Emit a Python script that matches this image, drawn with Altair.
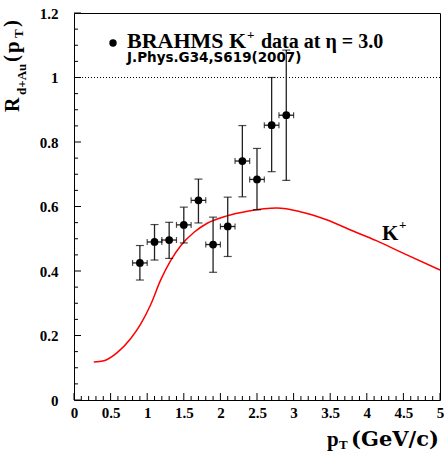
import altair as alt
import pandas as pd

# data points (BRAHMS K+ at eta=3.0)
pt_x = [0.9, 1.1, 1.3, 1.5, 1.7, 1.9, 2.1, 2.3, 2.5, 2.7, 2.9]
pt_y = [0.425, 0.490, 0.496, 0.543, 0.619, 0.482, 0.538, 0.741, 0.684, 0.852, 0.883]
pt_ylo = [0.372, 0.434, 0.439, 0.487, 0.549, 0.396, 0.445, 0.630, 0.590, 0.708, 0.681]
pt_yhi = [0.479, 0.544, 0.551, 0.598, 0.685, 0.567, 0.629, 0.851, 0.780, 1.000, 1.085]
pt_xerr = [0.1] * 11

# model curve
curve_x = [0.27, 0.41, 0.59, 0.77, 0.91, 1.05, 1.18, 1.32, 1.46, 1.64, 1.82, 2.09,
           2.37, 2.77, 3.09, 3.45, 3.77, 4.13, 4.45, 5.0]
curve_y = [0.118, 0.122, 0.147, 0.189, 0.235, 0.297, 0.370, 0.432, 0.479, 0.520,
           0.548, 0.571, 0.585, 0.595, 0.584, 0.559, 0.528, 0.494, 0.460, 0.403]

# axis ticks
x_major = [0, 0.5, 1, 1.5, 2, 2.5, 3, 3.5, 4, 4.5, 5]
x_minor = [round(i * 0.1, 2) for i in range(51) if i % 5 != 0]
y_major = [0, 0.2, 0.4, 0.6, 0.8, 1.0, 1.2]
y_minor = [round(i * 0.05, 3) for i in range(25) if i % 4 != 0]
ref_line = [1.0]

W, H = 366, 387
XS = alt.Scale(domain=[0, 5], nice=False, zero=False)
YS = alt.Scale(domain=[0, 1.2], nice=False, zero=False)

pts = pd.DataFrame({"x": pt_x, "y": pt_y, "ylo": pt_ylo, "yhi": pt_yhi,
                    "xlo": [a - b for a, b in zip(pt_x, pt_xerr)],
                    "xhi": [a + b for a, b in zip(pt_x, pt_xerr)]})
curve = pd.DataFrame({"x": curve_x, "y": curve_y})

DJ = "DejaVu Serif"
LS = "Liberation Serif"

base = alt.Chart(pts)

axis_x = alt.Axis(values=x_major, labelFont=LS, labelFontWeight="bold", labelFontSize=15,
                  labelColor="black", ticks=False, domain=False, grid=False, labelPadding=5,
                  labelFlush=False, labelOverlap=False, format="~g", title=None)
axis_y = alt.Axis(values=y_major, labelFont=LS, labelFontWeight="bold", labelFontSize=15,
                  labelColor="black", ticks=False, domain=False, grid=False, labelPadding=16,
                  labelFlush=False, labelOverlap=False, format="~g", title=None)


def X(f):
    return alt.X(f, type="quantitative", scale=XS, axis=axis_x)


def Y(f):
    return alt.Y(f, type="quantitative", scale=YS, axis=axis_y)


curve_layer = alt.Chart(curve).mark_line(color="#ff0000", strokeWidth=1.5, interpolate="monotone").encode(
    x=X("x"), y=Y("y"))

dotted = alt.Chart(pd.DataFrame({"y": ref_line})).mark_rule(color="black", strokeDash=[1, 2], strokeWidth=1).encode(
    y=Y("y"))

vbar = base.mark_rule(color="#222222", strokeWidth=1.3).encode(x=X("x"), y=Y("ylo"), y2="yhi:Q")
hbar = base.mark_rule(color="#222222", strokeWidth=1.3).encode(x=X("xlo"), x2="xhi:Q", y=Y("y"))
cap_lo = base.mark_tick(color="black", orient="horizontal", size=8, thickness=1.2).encode(x=X("x"), y=Y("ylo"))
cap_hi = base.mark_tick(color="black", orient="horizontal", size=8, thickness=1.2).encode(x=X("x"), y=Y("yhi"))
cap_l = base.mark_tick(color="black", orient="vertical", size=6, thickness=1.2).encode(x=X("xlo"), y=Y("y"))
cap_r = base.mark_tick(color="black", orient="vertical", size=6, thickness=1.2).encode(x=X("xhi"), y=Y("y"))
dots = base.mark_circle(color="black", size=60, opacity=1).encode(x=X("x"), y=Y("y"))

# inside ticks
xmaj = alt.Chart(pd.DataFrame({"v": x_major})).mark_rule(color="black", strokeWidth=1).encode(
    x=X("v"), y=alt.value(H), y2=alt.value(H - 7))
xmin = alt.Chart(pd.DataFrame({"v": x_minor})).mark_rule(color="black", strokeWidth=1).encode(
    x=X("v"), y=alt.value(H), y2=alt.value(H - 4))
ymaj = alt.Chart(pd.DataFrame({"v": y_major})).mark_rule(color="black", strokeWidth=1).encode(
    y=Y("v"), x=alt.value(0), x2=alt.value(7))
ymin = alt.Chart(pd.DataFrame({"v": y_minor})).mark_rule(color="black", strokeWidth=1).encode(
    y=Y("v"), x=alt.value(0), x2=alt.value(4))


def txt(t, x, y, size, font=LS, weight="bold", align="left", angle=0):
    kw = dict(text=t, font=font, fontSize=size, fontWeight=weight, align=align,
              baseline="alphabetic", color="black")
    if angle:
        kw["angle"] = angle
    return alt.Chart(pd.DataFrame({"a": [0]})).mark_text(**kw).encode(
        x=alt.value(x), y=alt.value(y))


legend_dot = alt.Chart(pd.DataFrame({"a": [0]})).mark_circle(color="black", size=55, opacity=1).encode(
    x=alt.value(39), y=alt.value(30))

texts = [
    txt("BRAHMS K", 53, 35, 22),
    txt("+", 173, 26, 13),
    txt("data at η = 3.0", 187, 35, 20),
    txt("J.Phys.G34,S619(2007)", 53, 49, 13.5, font="DejaVu Sans"),
    txt("K", 308, 227, 21),
    txt("+", 325, 216, 13),
    txt("p", 253, 433, 21),
    txt("T", 265, 436, 13),
    txt("(GeV/c)", 365, 433, 21, font=DJ, align="right"),
    txt("R", -55, 99, 20, angle=270),
    txt("d+Au", -48, 82, 13, angle=270),
    txt("(", -56, 49, 21, angle=270),
    txt("p", -55, 40, 21, angle=270),
    txt("T", -51, 25, 13, angle=270),
    txt(")", -56, 14, 21, angle=270),
]

chart = alt.layer(
    curve_layer, dotted, vbar, hbar, cap_lo, cap_hi, cap_l, cap_r, dots,
    xmaj, xmin, ymaj, ymin, legend_dot, *texts
).properties(
    width=W, height=H,
    autosize=alt.AutoSizeParams(type="none"),
    padding={"left": 74, "top": 13, "right": 4, "bottom": 54},
    background="white",
).configure_view(stroke="black", strokeWidth=1)

chart.save("out.html", embed_options={"renderer": "svg", "actions": False})
